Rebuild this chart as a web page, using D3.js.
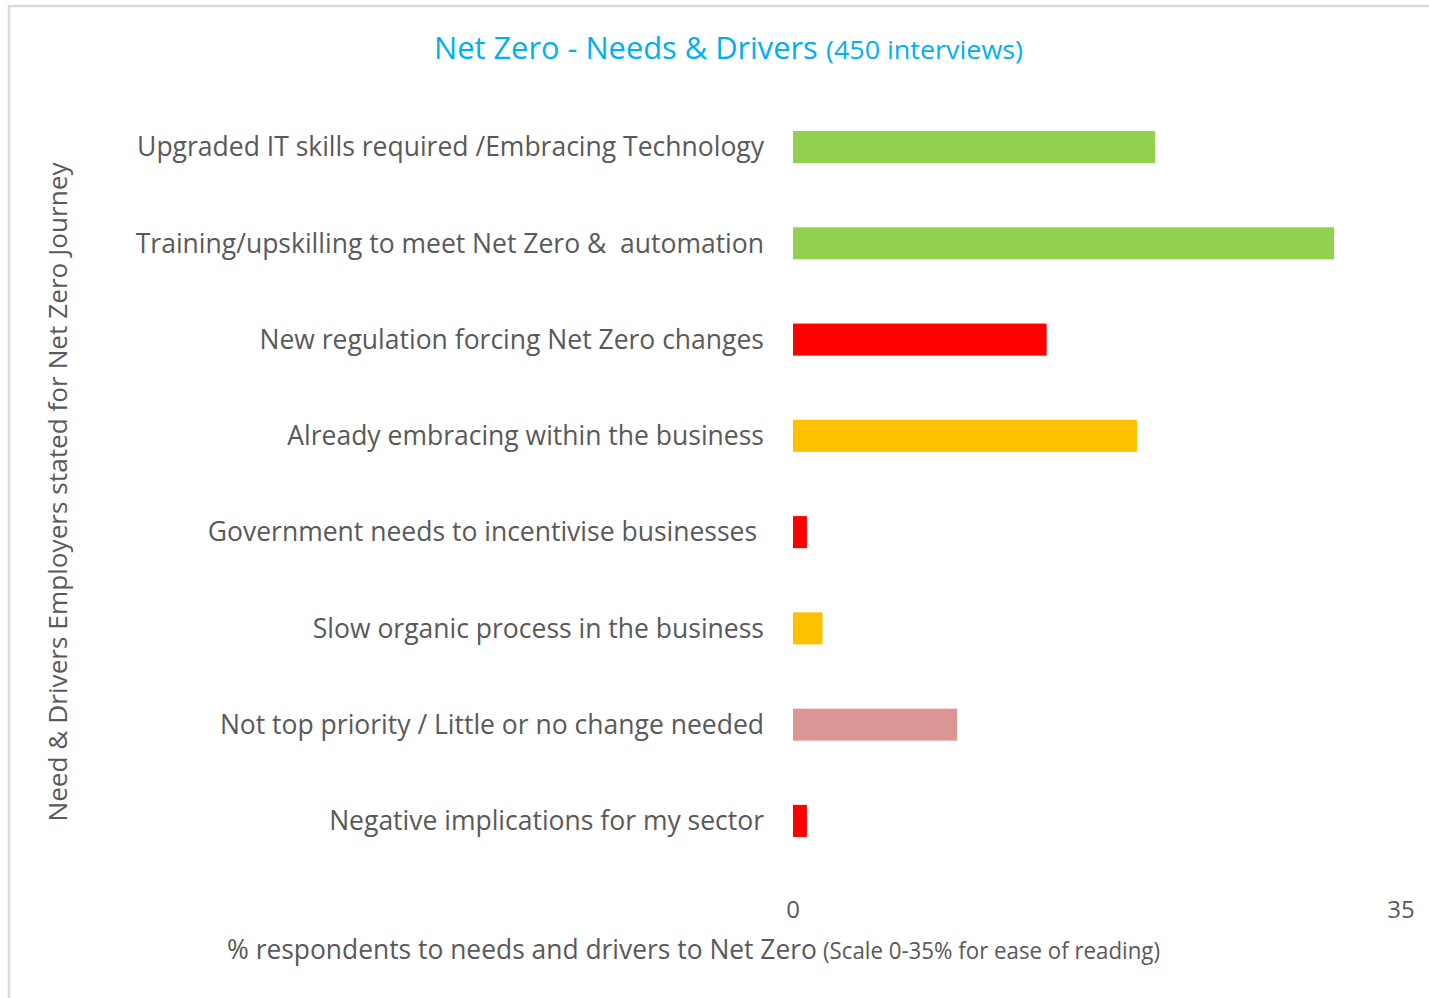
<!DOCTYPE html>
<html>
<head>
<meta charset="utf-8">
<script src="https://cdn.jsdelivr.net/npm/d3@7"></script>
<style>
  body { margin: 0; background: #fff; }
  svg text { font-family: "Open Sans", "Noto Sans", sans-serif; white-space: pre; }
</style>
</head>
<body>
<svg id="chart" width="1429" height="998"></svg>
<script>
// chart data
var categories = [
  'Upgraded IT skills required /Embracing Technology',
  'Training/upskilling to meet Net Zero &  automation',
  'New regulation forcing Net Zero changes',
  'Already embracing within the business',
  'Government needs to incentivise businesses ',
  'Slow organic process in the business',
  'Not top priority / Little or no change needed',
  'Negative implications for my sector'
];
var values = [20.85, 31.15, 14.6, 19.8, 0.8, 1.7, 9.45, 0.8];
var barColors = ['#92d050', '#92d050', '#ff0000', '#ffc000', '#ff0000', '#ffc000', '#da9694', '#ff0000'];
var tickValues = [0, 35];

var svg = d3.select('#chart');

// outer frame (top + left edges visible)
svg.append('rect')
  .attr('x', 9).attr('y', 6)
  .attr('width', 1440).attr('height', 1010)
  .attr('fill', 'none')
  .attr('stroke', '#d9d9d9')
  .attr('stroke-width', 2.5);

var x = d3.scaleLinear().domain([0, 35]).range([793, 1401]);
var y = d3.scaleBand().domain(categories).range([99, 869]).paddingInner(0.667).paddingOuter(0.333);

// bars
svg.selectAll('.bar')
  .data(values)
  .join('rect')
  .attr('class', 'bar')
  .attr('x', x(0))
  .attr('y', function(d, i) { return y(categories[i]); })
  .attr('width', function(d) { return x(d) - x(0); })
  .attr('height', y.bandwidth())
  .attr('fill', function(d, i) { return barColors[i]; });

// category labels
svg.selectAll('.cat')
  .data(categories)
  .join('text')
  .attr('class', 'cat')
  .attr('x', 764)
  .attr('y', function(d) { return y(d) + y.bandwidth() / 2; })
  .attr('dy', '0.35em')
  .attr('text-anchor', 'end')
  .attr('fill', '#595959')
  .style('font-size', '26.5px')
  .text(function(d) { return d; });

// x tick labels
svg.selectAll('.tick-label')
  .data(tickValues)
  .join('text')
  .attr('class', 'tick-label')
  .attr('x', function(d) { return x(d); })
  .attr('y', 918)
  .attr('text-anchor', 'middle')
  .attr('fill', '#595959')
  .style('font-size', '24px')
  .text(function(d) { return d; });

// title
var title = svg.append('text')
  .attr('x', 434).attr('y', 59)
  .attr('fill', '#00b0f0');
title.append('tspan').style('font-size', '30.8px').text('Net Zero - Needs & Drivers');
title.append('tspan').attr('x', 826).style('font-size', '26px')
  .attr('textLength', 197).attr('lengthAdjust', 'spacingAndGlyphs').text('(450 interviews)');

// x axis title
var xt = svg.append('text')
  .attr('x', 227).attr('y', 959)
  .attr('fill', '#595959');
xt.append('tspan').style('font-size', '26.4px').text('% respondents to needs and drivers to Net Zero');
xt.append('tspan').attr('x', 823).style('font-size', '23px')
  .attr('textLength', 337).attr('lengthAdjust', 'spacingAndGlyphs').text('(Scale 0-35% for ease of reading)');

// y axis title
svg.append('text')
  .attr('transform', 'translate(67,492) rotate(-90)')
  .attr('text-anchor', 'middle')
  .attr('fill', '#595959')
  .style('font-size', '26.2px')
  .text('Need & Drivers Employers stated for Net Zero Journey');
</script>
</body>
</html>
